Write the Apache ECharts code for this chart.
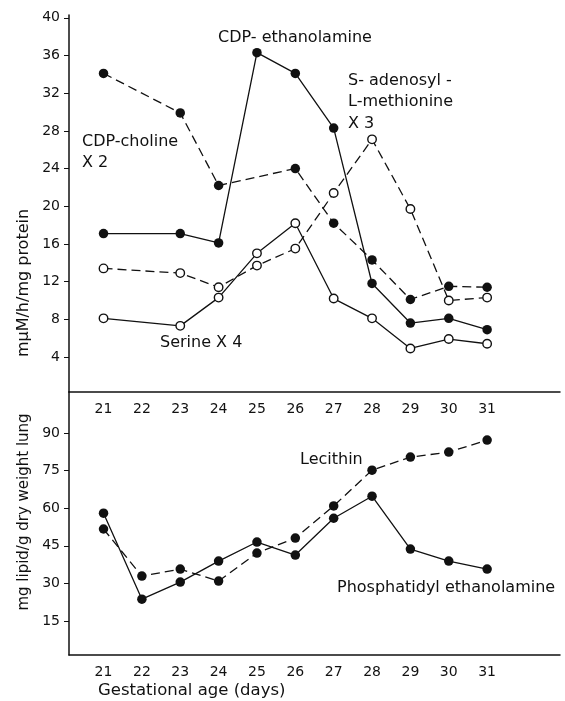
<!DOCTYPE html>
<html>
<head>
<meta charset="utf-8">
<script src="https://cdn.jsdelivr.net/npm/echarts@6/dist/echarts.min.js"></script>
<style>
  html, body { margin: 0; padding: 0; background: #fff; }
  #viz { width: 565px; height: 701px; }
</style>
</head>
<body>
<div id="viz"></div>
<script>
// gestational age (days)
const days = [21, 22, 23, 24, 25, 26, 27, 28, 29, 30, 31]

// top panel: mμM/h/mg protein
const cdpCholine = [34.1, null, 29.9, 22.2, null, 24.0, 18.2, 14.3, 10.1, 11.5, 11.4]
const cdpEthanolamine = [17.1, null, 17.1, 16.1, 36.3, 34.1, 28.3, 11.8, 7.6, 8.1, 6.9]
const adoMet = [13.4, null, 12.9, 11.4, 13.7, 15.5, 21.4, 27.1, 19.7, 10.0, 10.3]
const serine = [8.1, null, 7.3, 10.3, 15.0, 18.2, 10.2, 8.1, 4.9, 5.9, 5.4]

// bottom panel: mg lipid/g dry weight lung
const lecithin = [51.7, 32.9, 35.7, 30.9, 42.1, 48.1, 60.9, 75.2, 80.4, 82.4, 87.2]
const phosphEth = [58.0, 23.7, 30.5, 38.9, 46.5, 41.3, 56.0, 64.8, 43.7, 38.9, 35.7]

const topTicks = [4, 8, 12, 16, 20, 24, 28, 32, 36, 40]
const bottomTicks = [15, 30, 45, 60, 75, 90]

const FONT = 'DejaVu Sans'
const INK = '#111'

const pairs = (vals) =>
  days.map((d, i) => [d, vals[i]]).filter((p) => p[1] !== null)

const mkSeries = (vals, idx, dashed, open) => ({
  type: 'line',
  xAxisIndex: idx,
  yAxisIndex: idx,
  data: pairs(vals),
  symbol: 'circle',
  symbolSize: open ? 8.5 : 9.5,
  lineStyle: { color: INK, width: 1.3, type: dashed ? [9, 5] : 'solid' },
  itemStyle: {
    color: open ? '#fff' : INK,
    borderColor: INK,
    borderWidth: open ? 1.4 : 0,
  },
  z: open ? 3 : 2,
  animation: false,
})

const xAxisBase = (gridIndex) => ({
  type: 'value',
  gridIndex,
  position: 'bottom',
  min: 20.1,
  max: 32.9,
  splitLine: { show: false },
  axisLine: { onZero: false, lineStyle: { color: INK, width: 1.5 } },
  axisTick: { show: false },
  axisLabel: {
    customValues: days,
    color: INK,
    fontFamily: FONT,
    fontSize: 14,
    margin: 10,
  },
})

const yAxisBase = (gridIndex, min, max, ticks) => ({
  type: 'value',
  gridIndex,
  position: 'left',
  min,
  max,
  splitLine: { show: false },
  axisLine: { show: true, onZero: false, lineStyle: { color: INK, width: 1.5 } },
  axisTick: { show: true, customValues: ticks, length: 5, lineStyle: { color: INK } },
  axisLabel: {
    customValues: ticks,
    color: INK,
    fontFamily: FONT,
    fontSize: 14,
    margin: 9,
  },
})

// one line of annotation text, positioned by its left edge and vertical centre
const txt = (x, y, text, size) => ({
  type: 'text',
  x,
  y,
  style: {
    text,
    fill: INK,
    font: `${size || 16}px "${FONT}"`,
    verticalAlign: 'middle',
  },
})

const vtxt = (x, y, text, size) => ({
  type: 'text',
  x,
  y,
  rotation: Math.PI / 2,
  style: {
    text,
    fill: INK,
    font: `${size}px "${FONT}"`,
    align: 'center',
    verticalAlign: 'middle',
  },
})

const chart = echarts.init(document.getElementById('viz'))

chart.setOption({
  animation: false,
  grid: [
    { left: 69, top: 15, width: 491, height: 377 },
    { left: 69, top: 392, width: 491, height: 263 },
  ],
  xAxis: [xAxisBase(0), xAxisBase(1)],
  yAxis: [
    yAxisBase(0, 0.28, 40.3, topTicks),
    yAxisBase(1, 1.4, 106.4, bottomTicks),
  ],
  series: [
    mkSeries(cdpCholine, 0, true, false),
    mkSeries(cdpEthanolamine, 0, false, false),
    mkSeries(adoMet, 0, true, true),
    mkSeries(serine, 0, false, true),
    mkSeries(lecithin, 1, true, false),
    mkSeries(phosphEth, 1, false, false),
  ],
  graphic: [
    txt(218, 38, 'CDP- ethanolamine'),
    txt(348, 81, 'S- adenosyl -'),
    txt(348, 102, 'L-methionine'),
    txt(348, 124, 'X 3'),
    txt(82, 142, 'CDP-choline'),
    txt(82, 163, 'X 2'),
    txt(160, 343, 'Serine X 4'),
    txt(300, 460, 'Lecithin'),
    txt(337, 588, 'Phosphatidyl ethanolamine'),
    txt(98, 691, 'Gestational age (days)', 16.5),
    vtxt(24, 283, 'mμM/h/mg protein', 16),
    vtxt(24, 512, 'mg lipid/g dry weight lung', 15),
  ],
})
</script>
</body>
</html>
